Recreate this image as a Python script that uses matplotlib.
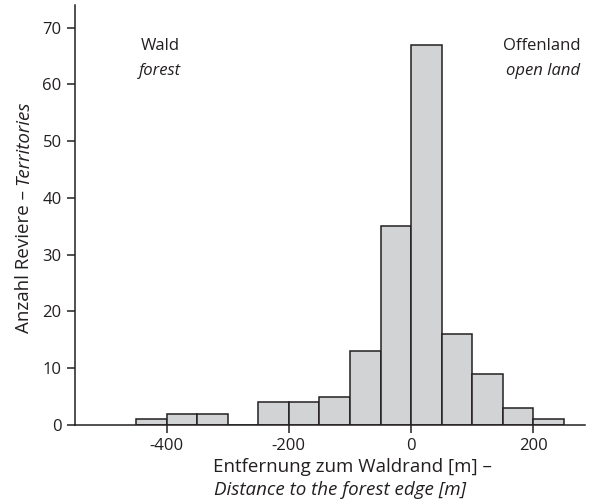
import matplotlib.pyplot as plt
import numpy as np

plt.rcParams['font.family'] = ['Open Sans', 'DejaVu Sans']
plt.rcParams['axes.unicode_minus'] = False

# histogram bins of 50 m, left edges
bin_left = [-450, -400, -350, -300, -250, -200, -150, -100, -50, 0, 50, 100, 150, 200]
counts = [1, 2, 2, 0, 4, 4, 5, 13, 35, 67, 16, 9, 3, 1]
bin_width = 50

x_ticks = [-400, -200, 0, 200]
y_ticks = [0, 10, 20, 30, 40, 50, 60, 70]

ink = '#231f20'
fill = '#d1d3d4'

fig = plt.figure(figsize=(5.9, 5.04), dpi=100)
ax = fig.add_axes([0.127, 0.157, 0.865, 0.833])

ax.bar(bin_left, counts, width=bin_width, align='edge', color=fill,
       edgecolor=ink, linewidth=1.1, zorder=2)

ax.set_xlim(-550, 285)
ax.set_ylim(0, 74)
ax.set_xticks(x_ticks)
ax.set_yticks(y_ticks)
ax.tick_params(direction='out', length=6, width=1.1, colors=ink, labelsize=12)
for s in ['top', 'right']:
    ax.spines[s].set_visible(False)
for s in ['left', 'bottom']:
    ax.spines[s].set_color(ink)
    ax.spines[s].set_linewidth(1.1)

ax.text(-411, 66.8, 'Wald', ha='center', va='center', fontsize=12, color=ink)
ax.text(-411, 62.4, 'forest', ha='center', va='center', fontsize=12, color=ink, style='italic')
ax.text(277, 66.8, 'Offenland', ha='right', va='center', fontsize=12, color=ink)
ax.text(277, 62.4, 'open land', ha='right', va='center', fontsize=12, color=ink, style='italic')

fig.text(0.598, 0.073, 'Entfernung zum Waldrand [m] \u2013', ha='center', va='center',
         fontsize=13.5, color=ink)
fig.text(0.576, 0.027, 'Distance to the forest edge [m]', ha='center', va='center',
         fontsize=13.5, color=ink, style='italic')

# y label in two styles, stacked along the rotated baseline
t1 = fig.text(0.04, 0.339, 'Anzahl Reviere \u2013 ', ha='center', va='bottom',
              rotation=90, fontsize=13.5, color=ink)
fig.canvas.draw()
bb = t1.get_window_extent().transformed(fig.transFigure.inverted())
fig.text(0.04, bb.y1, 'Territories', ha='center', va='bottom',
         rotation=90, fontsize=13.5, color=ink, style='italic')

fig.savefig('out.png', dpi=100)
